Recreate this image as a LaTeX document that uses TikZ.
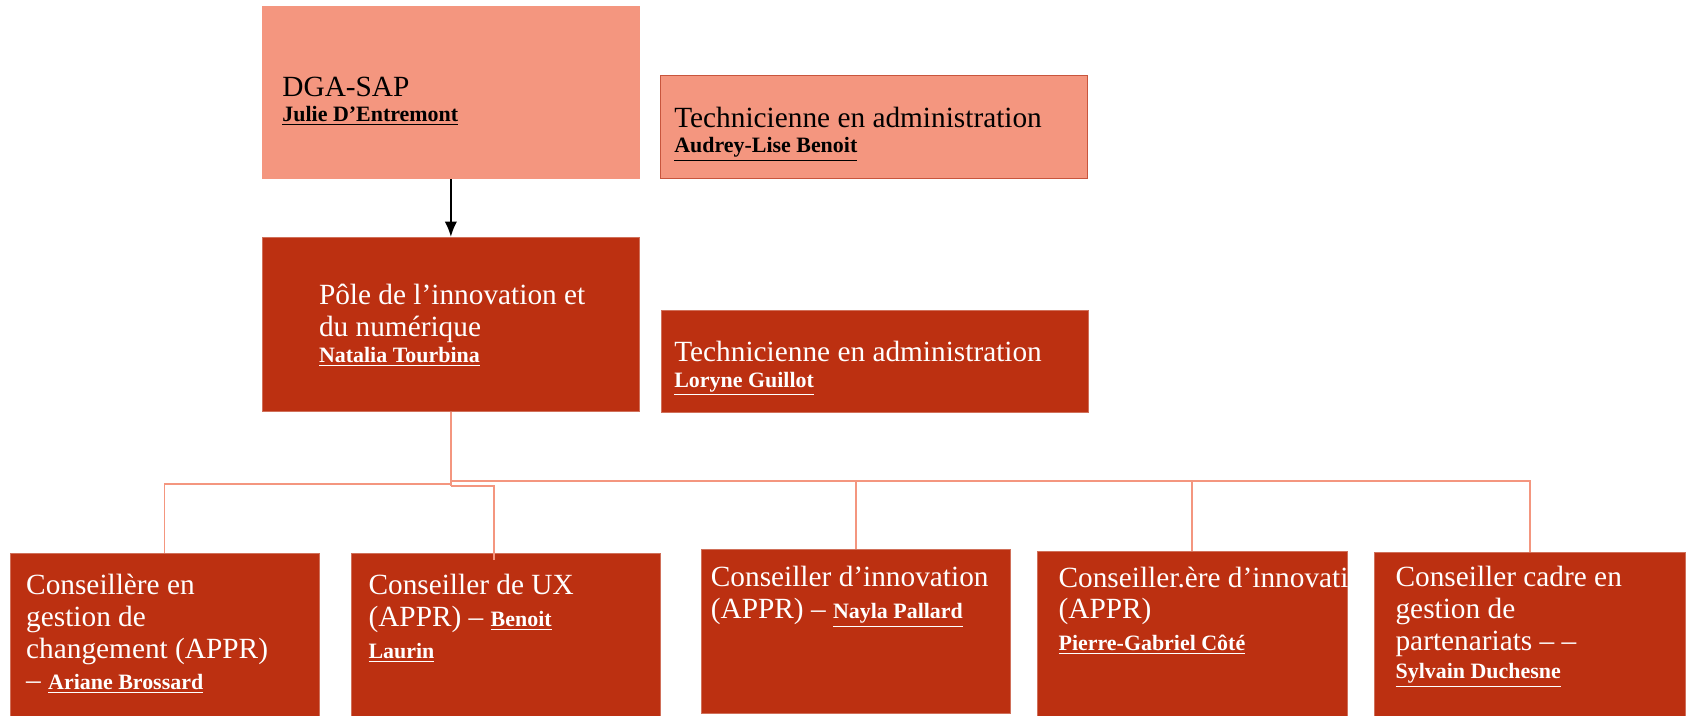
\documentclass[tikz,border=0pt]{standalone}
\usepackage{fontspec}
\setmainfont{Liberation Serif}
\usetikzlibrary{arrows.meta,
		calc}

\definecolor{saumon}{HTML}{F4967F}
\definecolor{brique}{HTML}{BC3011}
\definecolor{bordure}{HTML}{C8553D}
\definecolor{filet}{HTML}{D0705A}

\newcommand\titre{\fontsize{15.5}{16.8}\selectfont}
\newcommand\nom[1]{{\fontsize{11.6}{13}\selectfont\bfseries\underline{#1}}}

\begin{document}
\begin{tikzpicture}[x=0.02cm, y=-0.02cm,
	clair/.style={fill=saumon, anchor=north west, inner sep=0pt},
	fonce/.style={fill=brique, draw=filet, line width=0.4pt, anchor=north west, inner sep=0pt},
	txt/.style={anchor=north west, inner sep=0pt, align=left, font=\titre},
	link/.style={saumon, line width=1pt},
	arr/.style={-{Latex[length=8pt, width=6.5pt]}, line width=0.9pt}]

\useasboundingbox (0,0) rectangle (1568,665);

% top level
\node[clair, minimum width=7.02cm, minimum height=3.22cm] (dga) at (243,5) {};
\node[clair, draw=bordure, line width=0.5pt, minimum width=7.94cm, minimum height=1.9cm] (tadm1) at (613,70) {};
\node[txt] (dgatxt) at ($(dga.north west)+(19,66)$) {DGA-SAP\\[-3.4pt]\nom{Julie D’Entremont}};
\node[txt] (tadm1txt) at ($(tadm1.north west)+(13,29)$) {Technicienne en administration\\[-3.4pt]\nom{Audrey-Lise Benoit}};

% pole
\node[fonce, minimum width=7.02cm, minimum height=3.24cm] (pole) at (243,220) {};
\node[fonce, minimum width=7.94cm, minimum height=1.9cm] (tadm2) at (614,288) {};
\node[txt, white] (poletxt) at ($(pole.north west)+(53,44)$) {Pôle de l’innovation et\\du numérique\\[-3.4pt]\nom{Natalia Tourbina}};
\node[txt, white] (tadm2txt) at ($(tadm2.north west)+(12,29)$) {Technicienne en administration\\[-3.4pt]\nom{Loryne Guillot}};

\draw[arr] (dga.south) -- (pole.north);

% conseillers
\node[fonce, minimum width=5.74cm, minimum height=3.1cm] (c1) at (9,514) {};
\node[fonce, minimum width=5.74cm, minimum height=3.1cm] (c2) at (326,514) {};
\node[fonce, minimum width=5.74cm, minimum height=3.04cm] (c3) at (651,510) {};
\node[fonce, minimum width=5.76cm, minimum height=3.1cm] (c4) at (963,512) {};
\node[fonce, minimum width=5.78cm, minimum height=3.1cm] (c5) at (1276,513) {};

\node[txt, white] (c1txt) at ($(c1.north west)+(15,19)$) {Conseillère en\\gestion de\\changement (APPR)\\– \nom{Ariane Brossard}};
\node[txt, white] (c2txt) at ($(c2.north west)+(16,19)$) {Conseiller de UX\\(APPR) – \nom{Benoit}\\\nom{Laurin}};
\node[txt, white] (c3txt) at ($(c3.north west)+(9,16)$) {Conseiller d’innovation\\(APPR) – \nom{Nayla Pallard}};
\begin{scope}
\clip (c4.south west) rectangle (c4.north east);
\node[txt, white] (c4txt) at ($(c4.north west)+(20,14)$) {Conseiller.ère d’innovation\\(APPR)\\\nom{Pierre-Gabriel Côté}};
\end{scope}
\node[txt, white] (c5txt) at ($(c5.north west)+(20,13)$) {Conseiller cadre en\\gestion de\\partenariats – –\\[-2pt]\nom{Sylvain Duchesne}};

% links
\coordinate (hub) at ($(pole.south)+(0,64)$);
\draw[link] (pole.south) -- ++(0,69);
\foreach \c in {c3,c4,c5}
	\draw[link] (hub) -| (\c.north);
\draw[link] ($(hub)+(0,3)$) -| (c1.north);
\draw[link] ($(hub)+(0,5)$) -| ($(c2.north)+(-11,6)$);

\end{tikzpicture}
\end{document}
